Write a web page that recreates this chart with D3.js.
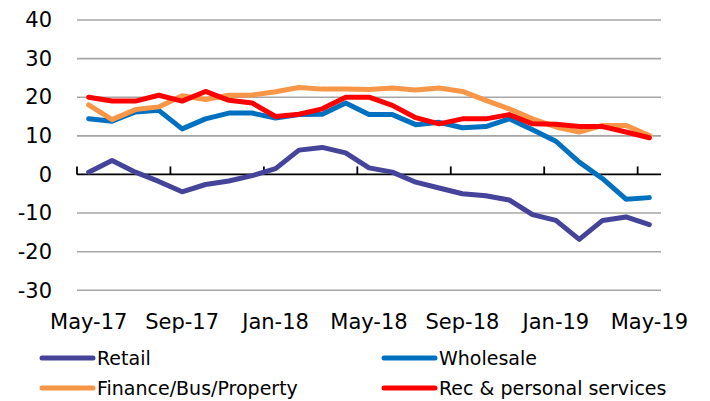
<!DOCTYPE html>
<html>
<head>
<meta charset="utf-8">
<script src="https://d3js.org/d3.v7.min.js"></script>
<style>
  body { margin: 0; background: #fff; }
  text { font-family: "DejaVu Sans", sans-serif; fill: #000; }
</style>
</head>
<body>
<svg id="chart"></svg>
<script>
  var width = 710;
  var height = 401;

  // monthly, May-17 .. May-19
  const months = ["May-17", "Jun-17", "Jul-17", "Aug-17", "Sep-17", "Oct-17", "Nov-17", "Dec-17",
    "Jan-18", "Feb-18", "Mar-18", "Apr-18", "May-18", "Jun-18", "Jul-18", "Aug-18",
    "Sep-18", "Oct-18", "Nov-18", "Dec-18", "Jan-19", "Feb-19", "Mar-19", "Apr-19", "May-19"];
  const labelMonths = ["May-17", "Sep-17", "Jan-18", "May-18", "Sep-18", "Jan-19", "May-19"];
  const yTicks = [-30, -20, -10, 0, 10, 20, 30, 40];

  const retail = [0.6, 3.6, 0.6, -1.8, -4.5, -2.6, -1.7, -0.3, 1.5, 6.3, 7.0, 5.6, 1.7,
    0.6, -2.0, -3.5, -5.0, -5.5, -6.6, -10.4, -11.9, -16.8, -11.9, -11.0, -13.0];
  const wholesale = [14.4, 13.8, 16.2, 16.6, 11.8, 14.4, 15.9, 15.9, 14.6, 15.5, 15.6, 18.5, 15.5,
    15.5, 12.9, 13.5, 12.1, 12.4, 14.4, 11.6, 8.6, 3.2, -1.1, -6.4, -6.0];
  const finance = [18.0, 14.2, 16.8, 17.5, 20.4, 19.4, 20.5, 20.6, 21.4, 22.5, 22.1, 22.1, 22.0,
    22.4, 21.9, 22.4, 21.5, 19.2, 17.0, 14.4, 12.3, 11.0, 12.7, 12.7, 10.1];
  const recPersonal = [20.0, 19.0, 19.0, 20.5, 19.0, 21.5, 19.2, 18.5, 15.0, 15.6, 17.0, 20.0, 20.0,
    17.9, 14.7, 13.1, 14.4, 14.4, 15.5, 13.1, 13.0, 12.4, 12.4, 11.0, 9.5];

  const seriesNames = ["Retail", "Wholesale", "Finance/Bus/Property", "Rec & personal services"];
  const seriesColors = ["#46449a", "#0070c0", "#f79646", "#ff0000"];
  const seriesValues = [retail, wholesale, finance, recPersonal];

  var svg = d3.select("#chart")
    .attr("width", width)
    .attr("height", height);

  var x = d3.scaleBand()
    .domain(months)
    .range([77, 661]);

  var y = d3.scaleLinear()
    .domain([-30, 40])
    .range([290.3, 20]);

  // gridlines (zero line is drawn as the axis)
  svg.append("g")
    .selectAll("line")
    .data(yTicks.filter(d => d != 0))
    .enter()
    .append("line")
    .attr("x1", 77)
    .attr("x2", 661)
    .attr("y1", d => y(d))
    .attr("y2", d => y(d))
    .attr("stroke", "#a6a6a6")
    .attr("stroke-width", 1.6);

  // y labels
  var yAxis = svg.append("g")
    .attr("transform", "translate(77,0)")
    .call(d3.axisLeft(y).tickValues(yTicks).tickSize(0).tickPadding(25).tickFormat(d => String(d)));
  yAxis.select(".domain").remove();
  yAxis.selectAll("text")
    .style("font-family", "DejaVu Sans")
    .style("font-size", "21px")
    .attr("fill", "#000");

  // zero axis line with tick marks between categories
  svg.append("line")
    .attr("x1", 77)
    .attr("x2", 661)
    .attr("y1", y(0))
    .attr("y2", y(0))
    .attr("stroke", "#000")
    .attr("stroke-width", 1.8);

  svg.append("g")
    .selectAll("line")
    .data(labelMonths)
    .enter()
    .append("line")
    .attr("x1", d => x(d))
    .attr("x2", d => x(d))
    .attr("y1", y(0))
    .attr("y2", y(0) - 8)
    .attr("stroke", "#000")
    .attr("stroke-width", 1.8);

  // x labels
  var xAxis = svg.append("g")
    .attr("transform", "translate(0,314)")
    .call(d3.axisBottom(x).tickValues(labelMonths).tickSize(0).tickPadding(0));
  xAxis.select(".domain").remove();
  xAxis.selectAll("text")
    .style("font-family", "DejaVu Sans")
    .style("font-size", "21px")
    .attr("fill", "#000");

  var line = d3.line()
    .x((d, i) => x(months[i]) + x.bandwidth() / 2)
    .y(d => y(d));

  seriesValues.forEach(function(vals, k) {
    svg.append("path")
      .datum(vals)
      .attr("fill", "none")
      .attr("stroke", seriesColors[k])
      .attr("stroke-width", 5)
      .attr("stroke-linejoin", "round")
      .attr("stroke-linecap", "round")
      .attr("d", line);
  });

  // legend, two columns
  var legend = svg.append("g");
  var legX = [40, 382];
  var legY = [358, 388];

  seriesNames.forEach(function(name, k) {
    var lx = legX[k % 2];
    var ly = legY[Math.floor(k / 2)];
    legend.append("line")
      .attr("x1", lx + 2)
      .attr("x2", lx + 53)
      .attr("y1", ly)
      .attr("y2", ly)
      .attr("stroke", seriesColors[k])
      .attr("stroke-width", 5)
      .attr("stroke-linecap", "round");
    legend.append("text")
      .attr("x", lx + 57)
      .attr("y", ly + 7)
      .style("font-size", "19px")
      .text(name);
  });
</script>
</body>
</html>
